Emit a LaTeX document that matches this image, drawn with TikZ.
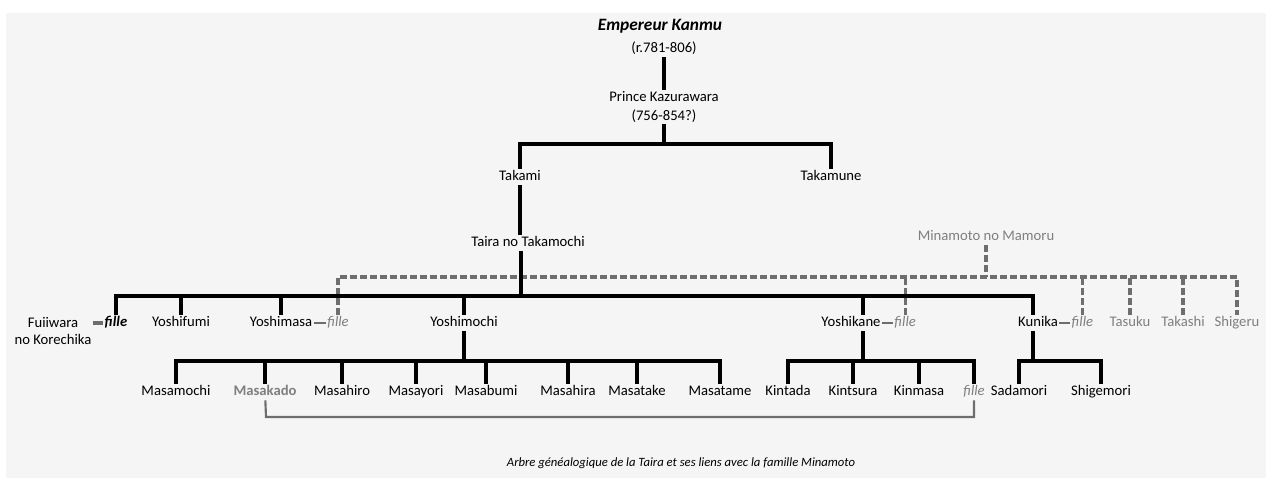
\documentclass[tikz,border=0pt]{standalone}
\usepackage{fontspec}
\setmainfont{Carlito}
\usepackage{xcolor}
\usetikzlibrary{positioning,calc}

\definecolor{fond}{HTML}{F5F5F5}
\definecolor{gris}{HTML}{6E6E6E}
\definecolor{grist}{HTML}{7F7F7F}

\tikzset{
  nombase/.style={inner sep=1pt, font=\fontsize{11}{13}\selectfont},
  nom/.style={nombase, text height=7.6pt, text depth=2.4pt},
  nomgris/.style={nom, text=grist},
  fille/.style={nom, text=grist, font=\fontsize{11}{13}\selectfont\itshape},
  lien/.style={line width=2.3pt, black},
  minamoto/.style={line width=2.3pt, gris, dash pattern=on 5pt off 2.5pt},
  mariage/.style={line width=1.6pt, gris},
}

\begin{document}
\begin{tikzpicture}[x=0.75pt, y=-0.75pt]
  \useasboundingbox (0,0) rectangle (1266,478);
  \fill[fond] (6,13) rectangle (1266,478);

  % Kanmu et Kazurawara
  \node[inner sep=1pt, font=\fontsize{13}{15}\selectfont\bfseries\itshape] (kanmu) at (660,26) {Empereur Kanmu};
  \node[nom] (regne) at (664,49) {(r.781-806)};
  \node[nombase, align=center, font=\fontsize{11}{14.25}\selectfont] (kazu) at (664,107) {Prince Kazurawara\\(756-854?)};
  \node[nom] (takami) at (520,177) {Takami};
  \node[nom] (takamune) at (831,177) {Takamune};
  \node[nom] (taira) at (528,243) {Taira no Takamochi};
  \node[nomgris] (mamoru) at (986,237) {Minamoto no Mamoru};

  % fils de Takamochi
  \node[nombase, align=center, font=\fontsize{11}{12.75}\selectfont] (fuji) at (53,331) {Fuiiwara\\no Korechika};
  \node[nom, font=\fontsize{11}{13}\selectfont\bfseries\itshape] (fil1) at (116,323) {fille};
  \node[nom] (yoshifumi) at (181,323) {Yoshifumi};
  \node[nom] (yoshimasa) at (281,323) {Yoshimasa};
  \node[fille, right=9pt of yoshimasa] (fil2) {fille};
  \node[nom] (yoshimochi) at (464,323) {Yoshimochi};
  \node[nom] (yoshikane) at (851,323) {Yoshikane};
  \node[fille, right=8pt of yoshikane] (fil3) {fille};
  \node[nom] (kunika) at (1038,323) {Kunika};
  \node[fille, right=8pt of kunika] (fil4) {fille};
  \node[nomgris] (tasuku) at (1130,323) {Tasuku};
  \node[nomgris] (takashi) at (1183,323) {Takashi};
  \node[nomgris] (shigeru) at (1237,323) {Shigeru};

  % petits-enfants
  \node[nom] (masamochi) at (176,392) {Masamochi};
  \node[nom, text=grist, font=\fontsize{11}{13}\selectfont\bfseries] (masakado) at (265,392) {Masakado};
  \node[nom] (masahiro) at (342,392) {Masahiro};
  \node[nom] (masayori) at (416,392) {Masayori};
  \node[nom] (masabumi) at (486,392) {Masabumi};
  \node[nom] (masahira) at (568,392) {Masahira};
  \node[nom] (masatake) at (637,392) {Masatake};
  \node[nom] (masatame) at (720,392) {Masatame};
  \node[nom] (kintada) at (788,392) {Kintada};
  \node[nom] (kintsura) at (853,392) {Kintsura};
  \node[nom] (kinmasa) at (919,392) {Kinmasa};
  \node[fille] (fil5) at (974,392) {fille};
  \node[nom] (sadamori) at (1019,392) {Sadamori};
  \node[nom] (shigemori) at (1101,392) {Shigemori};

  \node[inner sep=1pt, font=\fontsize{9.5}{11}\selectfont\itshape] (titre) at (681,463) {Arbre généalogique de la Taira et ses liens avec la famille Minamoto};

  % points de jonction
  \coordinate (b1) at (664,144);
  \coordinate (b2) at (521,296);
  \coordinate (b3) at (986,277);
  \coordinate (b4) at (464,361);
  \coordinate (b5) at (863,361);
  \coordinate (b6) at (1033,361);
  \coordinate (b7) at (1033,296);
  \coordinate (m1) at (266,417);

  % branche Minamoto
  \draw[minamoto] (mamoru) -- (b3);
  \draw[minamoto] (fil2) |- (b3) -| (shigeru);
  \foreach \n in {fil3,fil4,tasuku,takashi}
    \draw[minamoto] (\n) -- (\n |- b3);

  % Kanmu -> Takamochi
  \draw[lien] (regne) -- (kazu);
  \draw[lien] (kazu) -- (b1);
  \draw[lien] (takami) |- (b1) -| (takamune);
  \draw[lien] (takami.south) -- (takami.south |- taira.north);

  % enfants de Takamochi
  \draw[lien] (b2 |- taira.south) -- (b2);
  \draw[lien] (fil1) |- (b2) -| (b7 |- kunika.north);
  \foreach \n in {yoshifumi,yoshimasa,yoshimochi}
    \draw[lien] (\n) -- (\n |- b2);
  \draw[lien] (b5 |- yoshikane.north) -- (b5 |- b2);

  % enfants de Yoshimochi
  \draw[lien] (yoshimochi) -- (b4);
  \draw[lien] (masamochi) |- (b4) -| (masatame);
  \foreach \n in {masakado,masahiro,masayori,masabumi,masahira,masatake}
    \draw[lien] (\n) -- (\n |- b4);

  % enfants de Yoshikane
  \draw[lien] (b5 |- yoshikane.south) -- (b5);
  \draw[lien] (kintada) |- (b5) -| (fil5);
  \foreach \n in {kintsura,kinmasa}
    \draw[lien] (\n) -- (\n |- b5);

  % enfants de Kunika
  \draw[lien] (b6 |- kunika.south) -- (b6);
  \draw[lien] (sadamori) |- (b6) -| (shigemori);

  % mariages
  \draw[gris, line width=3pt] (fuji.east |- fil1.west) -- (fil1.west);
  \draw[mariage] (yoshimasa) -- (fil2);
  \draw[mariage] (yoshikane) -- (fil3);
  \draw[mariage] (kunika) -- (fil4);
  \draw[mariage] (masakado) -- (m1) -| (fil5);
\end{tikzpicture}
\end{document}
